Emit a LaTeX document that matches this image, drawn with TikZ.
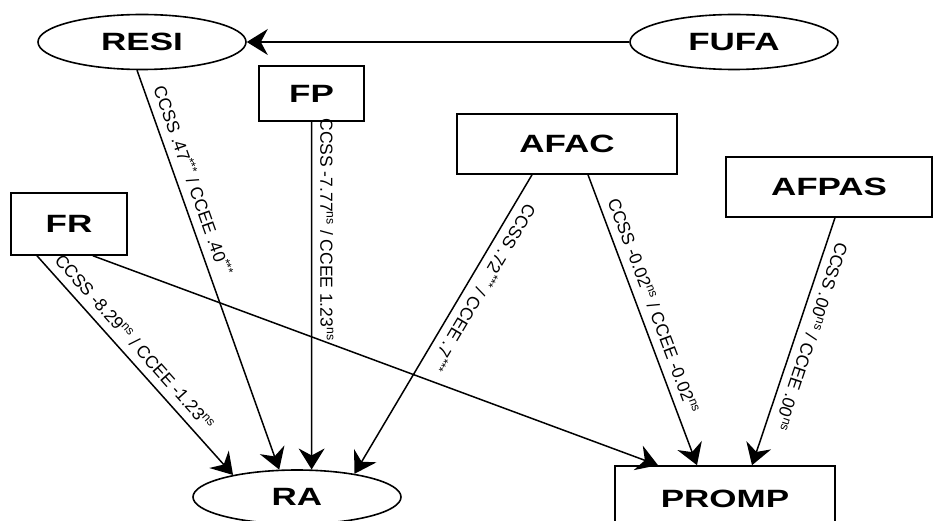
\documentclass[tikz,border=0pt]{standalone}
\usepackage{fontspec}
\usepackage{tikz}
\usetikzlibrary{positioning,shapes,arrows.meta}
\newfontfamily\namefont{Liberation Sans}[FakeStretch=1.4]
\newfontfamily\pathfont{Liberation Sans}

\begin{document}
\begin{tikzpicture}[x=1pt,y=-1pt]
\tikzstyle{every node}+=[inner sep=0pt]
\tikzstyle{oval}=[draw=black,line width=1.6pt,ellipse,minimum width=208pt,minimum height=55pt,font=\namefont\bfseries\fontsize{25}{25}\selectfont]
\tikzstyle{box}=[draw=black,line width=1.6pt,rectangle,font=\namefont\bfseries\fontsize{25}{25}\selectfont]
\tikzstyle{arr}=[black,line width=1.5pt,-{Stealth[length=21pt,width=26pt,inset=7pt]}]
\tikzstyle{coef}=[sloped,allow upside down,above=8pt,font=\pathfont\fontsize{17.5}{17.5}\selectfont]
\useasboundingbox (0,0) rectangle (933,521);
\node [oval] (resi) at (142,42) {RESI};
\node [oval] (fufa) at (734,42) {FUFA};
\node [box,minimum width=105pt,minimum height=55pt] (fp) at (311.5,93.5) {FP};
\node [box,minimum width=220pt,minimum height=60pt] (afac) at (567,144) {AFAC};
\node [box,minimum width=206pt,minimum height=60pt] (afpas) at (829,187) {AFPAS};
\node [box,minimum width=116pt,minimum height=62pt] (fr) at (69,224) {FR};
\node [oval,minimum height=54pt] (ra) at (297,497) {RA};
\node [box,minimum width=220pt,minimum height=66pt] (promp) at (725,499) {PROMP};
\draw [arr] (fufa) -- (resi);
\draw [arr] (resi.260) -- (ra.123) node [coef,pos=0.29] {CCSS .47\textsuperscript{***} / CCEE .40\textsuperscript{***}};
\draw [arr] (fp.south) -- (ra.62) node [coef,pos=0.31] {CCSS -7.77\textsuperscript{ns} / CCEE 1.23\textsuperscript{ns}};
\draw [arr] ([xshift=-35pt]afac.south) -- (ra.22) node [coef,pos=0.35] {CCSS .72\textsuperscript{***} / CCEE .7\textsuperscript{***}};
\draw [arr] ([xshift=21pt]afac.south) -- ([xshift=-28pt]promp.north) node [coef,pos=0.47] {CCSS -0.02\textsuperscript{ns} / CCEE -0.02\textsuperscript{ns}};
\draw [arr] ([xshift=6pt]afpas.south) -- ([xshift=27pt]promp.north) node [coef,pos=0.46] {CCSS .00\textsuperscript{ns} / CCEE .00\textsuperscript{ns}};
\draw [arr] ([xshift=-32pt]fr.south) -- (ra.161) node [coef,pos=0.44] {CCSS -8.29\textsuperscript{ns} / CCEE -1.23\textsuperscript{ns}};
\draw [arr] ([xshift=24pt]fr.south) -- ([xshift=-67pt]promp.north);
\end{tikzpicture}
\end{document}
